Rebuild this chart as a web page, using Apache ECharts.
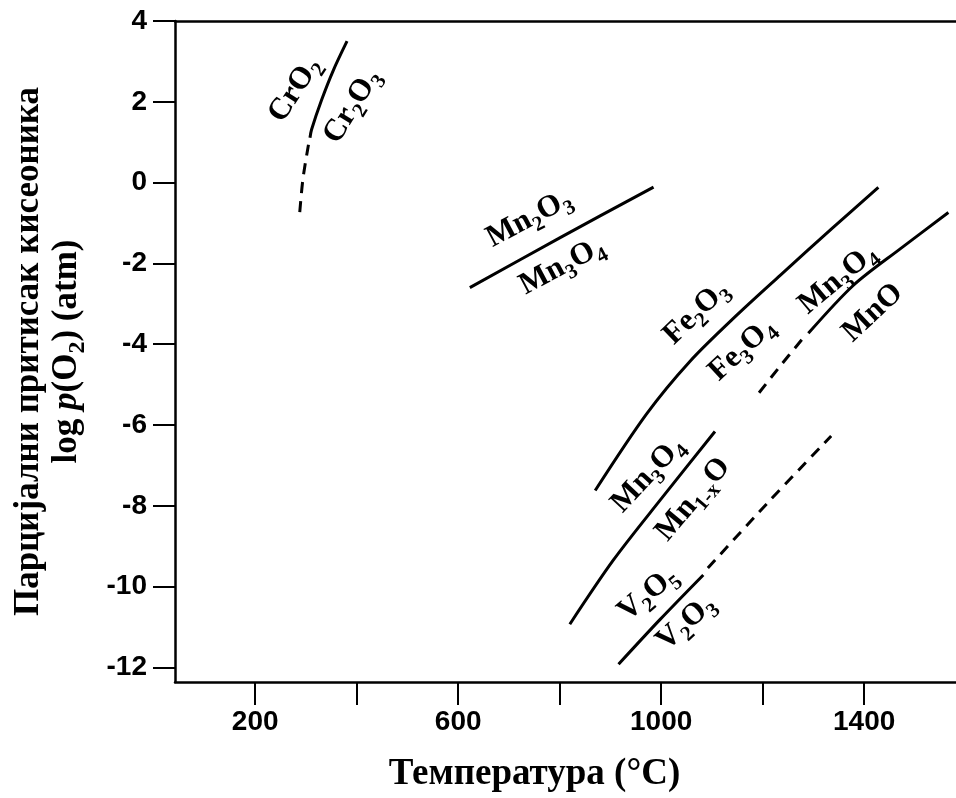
<!DOCTYPE html>
<html>
<head>
<meta charset="utf-8">
<script src="https://cdn.jsdelivr.net/npm/echarts@6/dist/echarts.min.js"></script>
<style>
html,body{margin:0;padding:0;background:#fff;}
#chart{width:956px;height:798px;}
</style>
</head>
<body>
<div id="chart"></div>
<script>
// ---- Data (temperature °C, log p(O2) atm) ----
const crSolidT = [381, 354, 331, 311, 308];
const crSolidP = [3.50, 2.78, 2.05, 1.31, 1.11];
const crDashT = [305, 294, 287];
const crDashP = [0.94, 0.08, -0.86];

const mn2o3T = [623, 801, 985];
const mn2o3P = [-2.60, -1.36, -0.11];

const feT = [870, 971, 1057, 1149, 1234, 1339, 1428];
const feP = [-7.62, -5.73, -4.42, -3.28, -2.30, -1.11, -0.12];

const mnoSolidT = [1290, 1379, 1471, 1566];
const mnoSolidP = [-3.73, -2.54, -1.64, -0.74];
const mnoDashT = [1277, 1232, 1188];
const mnoDashP = [-3.89, -4.58, -5.28];

const mn1xT = [820, 906, 998, 1106];
const mn1xP = [-10.93, -9.34, -7.86, -6.16];

const vSolidT = [916, 998, 1083];
const vSolidP = [-11.92, -10.81, -9.71];
const vDashT = [1092, 1208, 1335];
const vDashP = [-9.54, -7.95, -6.27];

// Phase labels
const labelTexts = ['{b|CrO}{s|2}', '{b|Cr}{s|2}{b|O}{s|3}', '{b|Mn}{s|2}{b|O}{s|3}', '{b|Mn}{s|3}{b|O}{s|4}',
  '{b|Fe}{s|2}{b|O}{s|3}', '{b|Fe}{s|3}{b|O}{s|4}', '{b|Mn}{s|3}{b|O}{s|4}', '{b|MnO}',
  '{b|Mn}{s|3}{b|O}{s|4}', '{b|Mn}{s|1-x}{b|O}', '{b|V}{s|2}{b|O}{s|5}', '{b|V}{s|2}{b|O}{s|3}'];
const labelT = [278, 391, 740, 805, 1069, 1159, 1348, 1417, 974, 1063, 974, 1049];
const labelP = [2.30, 1.89, -0.89, -2.07, -3.22, -4.13, -2.39, -3.22, -7.23, -7.84, -10.18, -10.89];
const labelRot = [57, 58, 28, 28, 44, 43, 40, 43, 47, 50, 40, 42];

const yTicks = [-12, -10, -8, -6, -4, -2, 0, 2, 4];
const xTicks = [200, 400, 600, 800, 1000, 1200, 1400];
const xLabels = [200, 600, 1000, 1400];

// ---- Chart ----
const zip = (a, b) => a.map((v, i) => [v, b[i]]);
const serif = '"Liberation Serif", "Times New Roman", serif';
const sans = '"Liberation Sans", Arial, sans-serif';

function lineSeries(t, p, dashed) {
  return {
    type: 'line', data: zip(t, p), smooth: 0.3, symbol: 'none', silent: true,
    lineStyle: { color: '#000', width: 3, type: dashed ? [11, 8] : 'solid', cap: 'butt' },
    z: 3
  };
}

const labelRich = {
  b: { fontFamily: serif, fontWeight: 'bold', fontSize: 31, lineHeight: 31, color: '#000', textBorderWidth: 0, verticalAlign: 'top' },
  s: { fontFamily: serif, fontWeight: 'bold', fontSize: 21, lineHeight: 21, color: '#000', textBorderWidth: 0, verticalAlign: 'top', padding: [15, 0, 0, 0] }
};

const labelData = labelTexts.map((txt, i) => ({
  value: [labelT[i], labelP[i]],
  label: { formatter: txt, rotate: labelRot[i] }
}));

const chart = echarts.init(document.getElementById('chart'), null, { renderer: 'canvas' });
chart.setOption({
  animation: false,
  backgroundColor: '#fff',
  grid: { left: 175, right: 0, top: 21, bottom: 111, containLabel: false },
  xAxis: [{
    type: 'value', min: 42, max: 1581, position: 'bottom',
    splitLine: { show: false },
    axisLine: { show: true, onZero: false, lineStyle: { color: '#000', width: 2.5 } },
    axisTick: { show: true, inside: false, length: 23, customValues: xTicks, lineStyle: { color: '#000', width: 2 } },
    axisLabel: { customValues: xLabels, margin: 26, color: '#000', fontFamily: sans, fontWeight: 'bold', fontSize: 28, formatter: v => String(v) },
    name: 'Температура (°C)', nameLocation: 'middle', nameGap: 74,
    nameTextStyle: { fontFamily: serif, fontWeight: 'bold', fontSize: 37, color: '#000', lineHeight: 37, padding: [0, 62, 0, 0] }
  }, {
    type: 'value', min: 42, max: 1581, position: 'top',
    splitLine: { show: false },
    axisLine: { show: true, onZero: false, lineStyle: { color: '#000', width: 2.5 } },
    axisTick: { show: false }, axisLabel: { show: false }
  }],
  yAxis: {
    type: 'value', min: -12.36, max: 4,
    splitLine: { show: false },
    axisLine: { show: true, onZero: false, lineStyle: { color: '#000', width: 2.5 } },
    axisTick: { show: true, inside: false, length: 22, customValues: yTicks, lineStyle: { color: '#000', width: 2 } },
    axisLabel: { customValues: yTicks, margin: 28, color: '#000', fontFamily: sans, fontWeight: 'bold', fontSize: 28 },
    name: '{a|Парцијални притисак кисеоника}\n{a|log }{i|p}{a|(O}{s|2}{a|) (atm)}',
    nameLocation: 'middle', nameRotate: 90, nameGap: 88,
    nameTextStyle: {
      color: '#000',
      rich: {
        a: { fontFamily: serif, fontWeight: 'bold', fontSize: 35, lineHeight: 38, color: '#000', verticalAlign: 'top' },
        i: { fontFamily: serif, fontWeight: 'bold', fontStyle: 'italic', fontSize: 35, lineHeight: 38, color: '#000', verticalAlign: 'top' },
        s: { fontFamily: serif, fontWeight: 'bold', fontSize: 24, lineHeight: 24, color: '#000', verticalAlign: 'top', padding: [17, 0, 0, 0] }
      }
    }
  },
  series: [
    lineSeries(crSolidT, crSolidP, false),
    lineSeries(crDashT, crDashP, true),
    lineSeries(mn2o3T, mn2o3P, false),
    lineSeries(feT, feP, false),
    lineSeries(mnoSolidT, mnoSolidP, false),
    lineSeries(mnoDashT, mnoDashP, true),
    lineSeries(mn1xT, mn1xP, false),
    lineSeries(vSolidT, vSolidP, false),
    lineSeries(vDashT, vDashP, true),
    {
      type: 'scatter', symbolSize: 0, silent: true, z: 5,
      itemStyle: { color: '#000', opacity: 1 },
      data: labelData,
      label: { show: true, position: 'inside', color: '#000', opacity: 1, textBorderWidth: 0, textBorderColor: 'transparent', rich: labelRich }
    }
  ]
});
</script>
</body>
</html>
